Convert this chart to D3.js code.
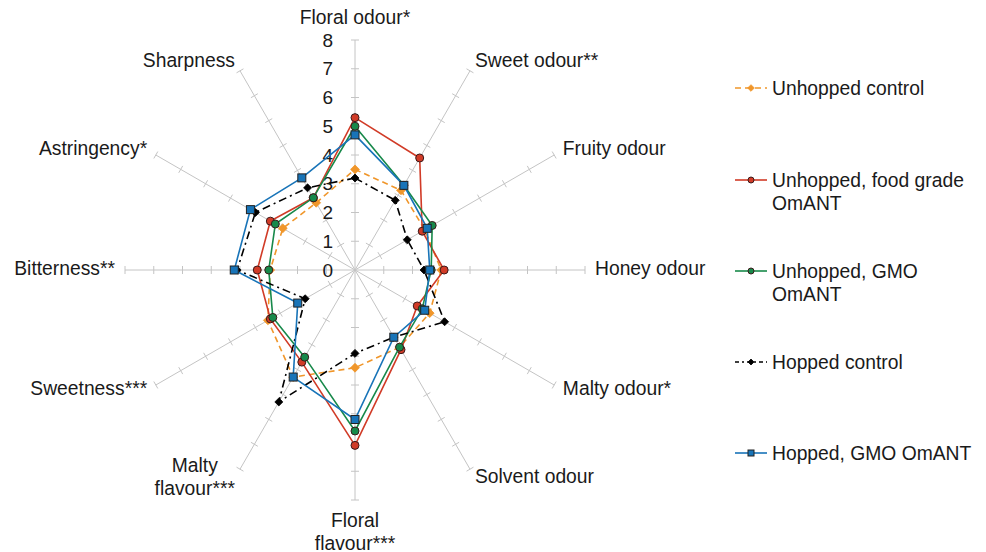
<!DOCTYPE html>
<html>
<head>
<meta charset="utf-8">
<script src="https://cdnjs.cloudflare.com/ajax/libs/d3/7.8.5/d3.min.js"></script>
<style>
  body { margin: 0; background: #fff; }
  text { font-family: "Liberation Sans", Arial, sans-serif; fill: #1a1a1a; }
</style>
</head>
<body>
<svg></svg>
<script>
// attributes, clockwise from the top
var attributes = [
  ['Floral odour*'], ['Sweet odour**'], ['Fruity odour'], ['Honey odour'],
  ['Malty odour*'], ['Solvent odour'], ['Floral', 'flavour***'], ['Malty', 'flavour***'],
  ['Sweetness***'], ['Bitterness**'], ['Astringency*'], ['Sharpness']
];
var tickValues = [0, 1, 2, 3, 4, 5, 6, 7, 8];

var unhoppedControl = [3.5, 3.2, 2.8, 3.0, 3.0, 3.1, 3.4, 4.3, 3.5, 2.95, 2.9, 2.7];
var unhoppedFoodGrade = [5.3, 4.5, 2.7, 3.1, 2.5, 3.2, 6.1, 3.7, 3.4, 3.4, 3.4, 2.9];
var unhoppedGmo = [5.0, 3.4, 3.1, 2.65, 2.7, 3.1, 5.6, 3.5, 3.3, 3.0, 3.2, 2.9];
var hoppedControl = [3.2, 2.8, 2.1, 2.4, 3.6, 2.7, 2.9, 5.3, 2.0, 4.1, 4.0, 3.3];
var hoppedGmo = [4.7, 3.4, 2.9, 2.6, 2.8, 2.7, 5.2, 4.3, 2.3, 4.2, 4.2, 3.7];

var series = [
  { name: ['Unhopped control'], values: unhoppedControl, color: '#f0962a', dash: '6,4', shape: 'diamond', size: 5 },
  { name: ['Unhopped, food grade', 'OmANT'], values: unhoppedFoodGrade, color: '#d13b27', dash: null, shape: 'circle', size: 4 },
  { name: ['Unhopped, GMO', 'OmANT'], values: unhoppedGmo, color: '#17894a', dash: null, shape: 'circle', size: 4 },
  { name: ['Hopped control'], values: hoppedControl, color: '#000000', dash: '8,4,2,4', shape: 'diamond', size: 4.5 },
  { name: ['Hopped, GMO OmANT'], values: hoppedGmo, color: '#1874b8', dash: null, shape: 'square', size: 4 }
];

var width = 986, height = 552;
var cx = 355, cy = 270, R = 230;
var svg = d3.select('svg').attr('width', width).attr('height', height);

var r = d3.scaleLinear().domain([0, 8]).range([0, R]);
var angle = d3.scaleLinear().domain([0, attributes.length]).range([0, 2 * Math.PI]);

function pt(i, v) {
  var a = angle(i);
  return [cx + r(v) * Math.sin(a), cy - r(v) * Math.cos(a)];
}

// axes with tick marks
var grid = svg.append('g').attr('stroke', '#c4c4c4').attr('stroke-width', 1);
attributes.forEach(function(d, i) {
  var end = pt(i, 8);
  grid.append('line').attr('x1', cx).attr('y1', cy).attr('x2', end[0]).attr('y2', end[1]);
  var a = angle(i);
  var px = Math.cos(a) * 4, py = Math.sin(a) * 4;
  tickValues.slice(1).forEach(function(t) {
    var p = pt(i, t);
    grid.append('line')
      .attr('x1', p[0] - px).attr('y1', p[1] - py)
      .attr('x2', p[0] + px).attr('y2', p[1] + py);
  });
});

// radial tick labels
svg.append('g').selectAll('text')
  .data(tickValues)
  .enter().append('text')
    .attr('x', cx - 22)
    .attr('y', d => cy - r(d))
    .attr('dy', '0.35em')
    .attr('text-anchor', 'end')
    .style('font-size', '19px')
    .text(d => d);

// category labels
attributes.forEach(function(lines, i) {
  var a = angle(i);
  var s = Math.sin(a), c = Math.cos(a);
  var x = cx + (R + 10) * s;
  var y = cy - (R + 10) * c + 5;
  var anchor = s > 0.1 ? 'start' : (s < -0.1 ? 'end' : 'middle');
  if (Math.abs(s) < 0.1) y += c > 0 ? -11 : 12;
  var t = svg.append('text')
    .style('font-size', '19.3px')
    .attr('text-anchor', lines.length > 1 ? 'middle' : anchor);
  lines.forEach(function(l, j) {
    t.append('tspan').attr('x', x).attr('dy', j ? 23 : 0).text(l);
  });
  if (lines.length > 1) {
    var w = d3.max(t.selectAll('tspan').nodes(), n => n.getComputedTextLength());
    var shift = anchor === 'end' ? -w / 2 : (anchor === 'start' ? w / 2 : 0);
    t.selectAll('tspan').attr('x', x + shift);
    var top = anchor === 'middle' ? y : y - 11;
    t.attr('y', top).attr('dy', '0.35em');
  } else {
    t.attr('y', y).attr('dy', '0.35em');
  }
});

var lineGen = d3.line().curve(d3.curveLinearClosed);

function marker(g, shape, size, color) {
  if (shape === 'square') {
    return g.append('rect').attr('x', -size).attr('y', -size)
      .attr('width', size * 2).attr('height', size * 2)
      .attr('fill', color).attr('stroke', '#222').attr('stroke-width', 1);
  }
  if (shape === 'diamond') {
    return g.append('path').attr('d', d3.symbol(d3.symbolDiamond2, size * size * 2)())
      .attr('fill', color).attr('stroke', color).attr('stroke-width', 0.8);
  }
  return g.append('circle').attr('r', size)
    .attr('fill', color).attr('stroke', '#3a1a1a').attr('stroke-width', 1);
}

series.forEach(function(s) {
  var g = svg.append('g');
  var pts = s.values.map((v, i) => pt(i, v));
  g.append('path')
    .attr('d', lineGen(pts))
    .attr('fill', 'none')
    .attr('stroke', s.color)
    .attr('stroke-width', 1.6)
    .attr('stroke-dasharray', s.dash);
  pts.forEach(function(p) {
    var m = g.append('g').attr('transform', 'translate(' + p[0] + ',' + p[1] + ')');
    marker(m, s.shape, s.size, s.color);
  });
});

// legend
var legendY = [88, 180, 271, 362, 453];
var legend = svg.append('g');
series.forEach(function(s, i) {
  var g = legend.append('g').attr('transform', 'translate(735,' + legendY[i] + ')');
  g.append('line').attr('x1', 0).attr('x2', 32)
    .attr('stroke', s.color).attr('stroke-width', 1.6)
    .attr('stroke-dasharray', s.dash ? (s.dash === '6,4' ? '6,4' : '4,3,2,3') : null);
  var m = g.append('g').attr('transform', 'translate(16,0)');
  marker(m, s.shape, s.size * 0.75, s.color);
  var t = g.append('text').attr('x', 37).attr('dy', '0.35em').style('font-size', '19.3px');
  s.name.forEach(function(l, j) {
    t.append('tspan').attr('x', 37).attr('dy', j ? 23 : '0.35em').text(l);
  });
});
</script>
</body>
</html>
